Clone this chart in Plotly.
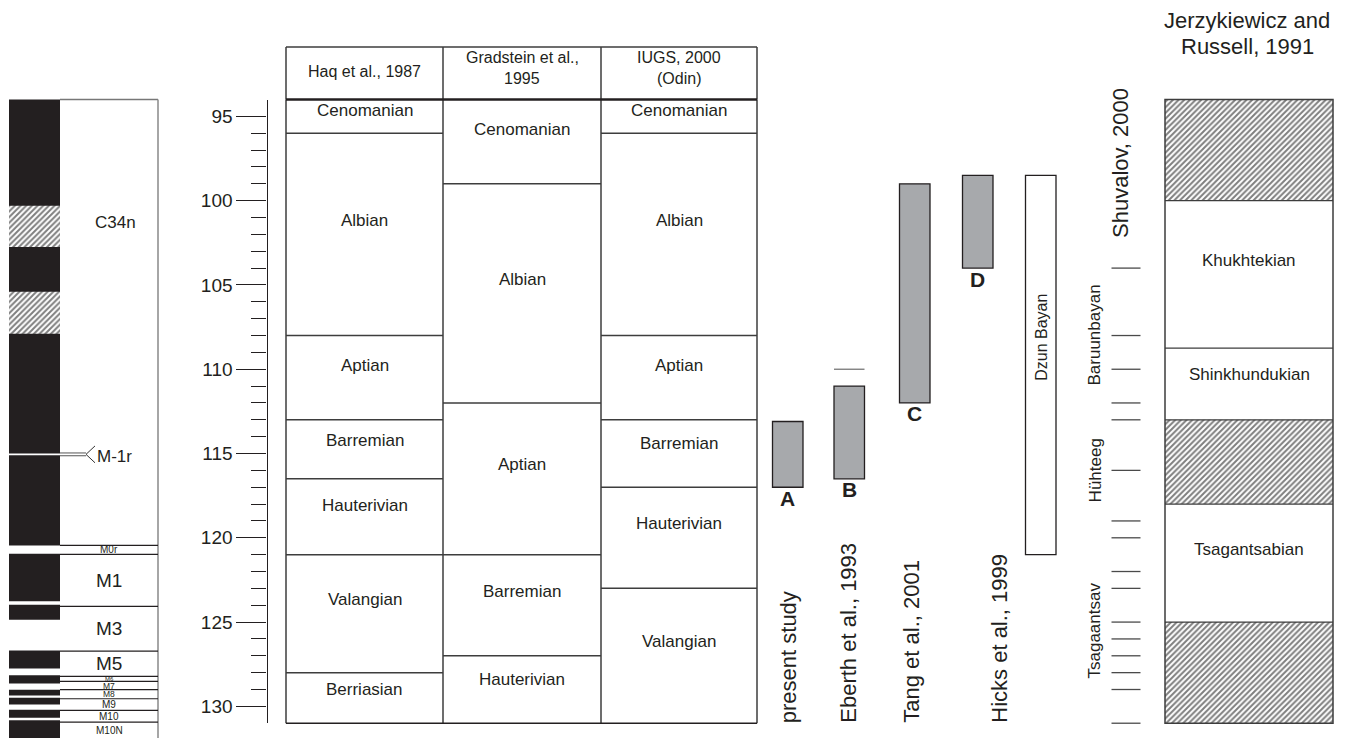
import plotly.graph_objects as go

# ---------------------------------------------------------------- data
# Numerical age scale (Ma)
SCALE_TOP = 94
SCALE_BASE = 131
MAJOR_AGES = [95, 100, 105, 110, 115, 120, 125, 130]
MINOR_AGES = [96, 97, 98, 99, 101, 102, 103, 104, 106, 107, 108, 109,
              111, 112, 113, 114, 116, 117, 118, 119, 121, 122, 123, 124,
              126, 127, 128, 129]

# Stage columns: stage names (young to old) and the base age of each stage
TABLE_HEADERS = [["Haq et al., 1987"],
                 ["Gradstein et al.,", "1995"],
                 ["IUGS, 2000", "(Odin)"]]
HAQ_STAGES = ["Cenomanian", "Albian", "Aptian", "Barremian",
              "Hauterivian", "Valangian", "Berriasian"]
HAQ_BASES = [96.0, 108.0, 113.0, 116.5, 121.0, 128.0, 131.0]
GRADSTEIN_STAGES = ["Cenomanian", "Albian", "Aptian", "Barremian", "Hauterivian"]
GRADSTEIN_BASES = [99.0, 112.0, 121.0, 127.0, 131.0]
IUGS_STAGES = ["Cenomanian", "Albian", "Aptian", "Barremian",
               "Hauterivian", "Valangian"]
IUGS_BASES = [96.0, 108.0, 113.0, 117.0, 123.0, 131.0]

# Geomagnetic polarity column
C34N_UNCERTAIN_TOPS = [100.3, 105.4]
C34N_UNCERTAIN_BASES = [102.75, 107.9]
REVERSED_TOPS = [120.45, 123.77, 124.86, 127.76, 128.65, 129.35, 129.89, 130.67]
REVERSED_BASES = [120.94, 123.97, 126.68, 128.16, 129.01, 129.49, 130.20, 130.83]
M_1R_AGE = 115.05
CHRON_NAMES = ["M0r", "M1", "M3", "M5", "M6", "M7", "M8", "M9", "M10", "M10N"]
CHRON_TOPS = [120.45, 120.98, 124.07, 126.72, 128.22, 128.52, 129.01,
              129.55, 130.24, 130.93]

# Age estimates for the Ondai Sayr / Dzun Bayan sequence
DATE_LABELS = ["A", "B", "C", "D"]
DATE_SOURCES = ["present study", "Eberth et al., 1993",
                "Tang et al., 2001", "Hicks et al., 1999"]
DATE_YOUNG = [113.1, 111.0, 99.0, 98.5]
DATE_OLD = [117.0, 116.5, 112.0, 104.0]
EBERTH_ALT_AGE = 110.0
DZUN_BAYAN_NAME = "Dzun Bayan"
DZUN_BAYAN_YOUNG = 98.5
DZUN_BAYAN_OLD = 121.0

# Shuvalov (2000) horizons
SHUVALOV_TICKS = [104, 108, 110, 112, 113, 116, 119, 120, 122, 123, 125,
                  126, 127, 128, 129, 131]
SHUVALOV_ZONES = ["Baruunbayan", "Hühteeg", "Tsagaantsav"]
SHUVALOV_BOUNDS = [104, 112, 120, 131]

# Jerzykiewicz and Russell (1991) land-vertebrate ages
JR_UNITS = ["", "Khukhtekian", "Shinkhundukian", "", "Tsagantsabian", ""]
JR_HATCHED = [True, False, False, True, False, True]
JR_BASES = [100.0, 108.75, 113.0, 118.0, 125.0, 131.0]

# ---------------------------------------------------------------- layout
W, H = 1346, 738
FONT = "Liberation Sans, Arial, Helvetica, sans-serif"
INK = "#231f20"
RULE = "#3d3d3d"
BAR_FILL = "#a7a9ac"

PX_AT_95 = 116.4          # vertical pixel of 95 Ma
PX_PER_MA = 16.856
AGE_AT_TOP_EDGE = 95 - PX_AT_95 / PX_PER_MA
AGE_AT_BOTTOM_EDGE = 95 + (H - PX_AT_95) / PX_PER_MA


def age_px(age):
    return PX_AT_95 + (age - 95) * PX_PER_MA


def paper_y(px):
    return 1 - px / H


shapes, annotations, traces = [], [], []


def rect(x0, x1, a0, a1, fill="rgba(0,0,0,0)", line=None, lw=0, layer="above"):
    shapes.append(dict(type="rect", xref="x", yref="y", x0=x0, x1=x1, y0=a0, y1=a1,
                       fillcolor=fill, layer=layer,
                       line=dict(color=line or "rgba(0,0,0,0)", width=lw)))


def seg(x0, x1, a0, a1, color=RULE, lw=1.5, yref="y"):
    shapes.append(dict(type="line", xref="x", yref=yref, x0=x0, x1=x1, y0=a0, y1=a1,
                       line=dict(color=color, width=lw), layer="above"))


def hatch(x0, x1, a0, a1):
    traces.append(go.Scatter(
        x=[x0, x1, x1, x0, x0], y=[a0, a0, a1, a1, a0], mode="lines",
        fill="toself", fillcolor="white",
        fillpattern=dict(shape="/", fgcolor="#000000", bgcolor="white", size=4,
                         solidity=0.5),
        line=dict(width=0), hoverinfo="skip", showlegend=False))


def text(x, y, s, size, yref="y", angle=0, xanchor="center", yanchor="middle",
         yshift=0, xshift=0, color=INK):
    annotations.append(dict(x=x, y=y, xref="x", yref=yref, text=s, showarrow=False,
                            textangle=angle, xanchor=xanchor, yanchor=yanchor,
                            yshift=yshift, xshift=xshift,
                            font=dict(family=FONT, size=size, color=color)))


# --- polarity column
MAG_L, MAG_M, MAG_R = 9, 60, 158
rect(MAG_L, MAG_M, SCALE_TOP, AGE_AT_BOTTOM_EDGE + 1, fill=INK, layer="below")
for t, b in zip(REVERSED_TOPS, REVERSED_BASES):
    rect(MAG_L, MAG_M, t, b, fill="white", layer="below")
for t, b in zip(C34N_UNCERTAIN_TOPS, C34N_UNCERTAIN_BASES):
    hatch(MAG_L, MAG_M, t, b)
seg(MAG_M, MAG_R, SCALE_TOP, SCALE_TOP, color="#777", lw=1.5)
seg(MAG_R, MAG_R, SCALE_TOP, AGE_AT_BOTTOM_EDGE + 1, color="#888", lw=1.5)
for a in CHRON_TOPS:
    seg(MAG_M, MAG_R, a, a, color=INK, lw=1.2)
chron_bases = CHRON_TOPS[1:] + [AGE_AT_BOTTOM_EDGE]
chron_sizes = [10, 19, 19, 19, 6, 8.5, 8.5, 10, 10, 10]
for name, t, b, fs in zip(CHRON_NAMES, CHRON_TOPS, chron_bases, chron_sizes):
    text((MAG_M + MAG_R) / 2, (t + b) / 2, name, fs)
text(115.5, 101.3, "C34n", 17)
# M-1r reversal marker
seg(MAG_L, MAG_M, M_1R_AGE, M_1R_AGE, color="white", lw=1.6)
d = 1.4 / PX_PER_MA
seg(MAG_M, 86, M_1R_AGE - d, M_1R_AGE - d, color="#555", lw=1)
seg(MAG_M, 86, M_1R_AGE + d, M_1R_AGE + d, color="#555", lw=1)
seg(86, 95, M_1R_AGE, M_1R_AGE - 0.5, color="#333", lw=1)
seg(86, 95, M_1R_AGE, M_1R_AGE + 0.5, color="#333", lw=1)
text(95, M_1R_AGE, "M-1r", 17, xanchor="left", yshift=-2)

# --- stage table
TABLE_X = [286, 443, 601, 757]
HEADER_TOP_PX = 47
seg(TABLE_X[0], TABLE_X[-1], paper_y(HEADER_TOP_PX), paper_y(HEADER_TOP_PX),
    color=RULE, lw=1.5, yref="paper")
for x in TABLE_X:
    seg(x, x, paper_y(HEADER_TOP_PX), paper_y(age_px(SCALE_TOP)), color=RULE, lw=1.5,
        yref="paper")
    seg(x, x, SCALE_TOP, SCALE_BASE, color=RULE, lw=1.5)
seg(TABLE_X[0], TABLE_X[-1], SCALE_BASE, SCALE_BASE, color=INK, lw=1.5)
header_rows = {1: [71], 2: [58, 79]}
for i, lines in enumerate(TABLE_HEADERS):
    xc = (TABLE_X[i] + TABLE_X[i + 1]) / 2
    for line, py in zip(lines, header_rows[len(lines)]):
        text(xc, paper_y(py), line, 16, yref="paper")
for i, (names, bases) in enumerate([(HAQ_STAGES, HAQ_BASES),
                                   (GRADSTEIN_STAGES, GRADSTEIN_BASES),
                                   (IUGS_STAGES, IUGS_BASES)]):
    x0, x1 = TABLE_X[i], TABLE_X[i + 1]
    tops = [SCALE_TOP] + bases[:-1]
    for name, t, b in zip(names, tops, bases):
        if b < SCALE_BASE:
            seg(x0, x1, b, b, color=RULE, lw=1.5)
        span = (b - t) * PX_PER_MA
        text((x0 + x1) / 2, (t + b) / 2, name, 17, yshift=min(12, span * 0.12) + 2)
seg(TABLE_X[0], TABLE_X[-1], SCALE_TOP, SCALE_TOP, color=INK, lw=2.6)

# --- age estimates
BAR_X = [772.5, 834, 899.5, 962.5]
BAR_W = 30.5
SOURCE_X = [788, 848.5, 912, 1000]
for lab, src, y0, y1, bx, sx in zip(DATE_LABELS, DATE_SOURCES, DATE_YOUNG, DATE_OLD,
                                    BAR_X, SOURCE_X):
    rect(bx, bx + BAR_W, y0, y1, fill=BAR_FILL, line=INK, lw=1.3)
    text(bx + BAR_W / 2, y1, "<b>%s</b>" % lab, 21, yshift=-11)
    text(sx, SCALE_BASE, src, 22, angle=-90, yanchor="bottom", yshift=-2)
seg(BAR_X[1], BAR_X[1] + BAR_W, EBERTH_ALT_AGE, EBERTH_ALT_AGE, color="#777", lw=1.3)
DZ_X0, DZ_X1 = 1025.5, 1056
rect(DZ_X0, DZ_X1, DZUN_BAYAN_YOUNG, DZUN_BAYAN_OLD, fill="white", line=INK, lw=1.3)
text((DZ_X0 + DZ_X1) / 2, (DZUN_BAYAN_YOUNG + DZUN_BAYAN_OLD) / 2, DZUN_BAYAN_NAME,
     16, angle=-90, yshift=28)

# --- Shuvalov (2000)
for a in SHUVALOV_TICKS:
    seg(1111.5, 1140.5, a, a, color="#4a4a4a", lw=1.3)
for name, t, b in zip(SHUVALOV_ZONES, SHUVALOV_BOUNDS[:-1], SHUVALOV_BOUNDS[1:]):
    text(1095, (t + b) / 2, name, 17, angle=-90)
text(1120, paper_y(163), "Shuvalov, 2000", 22, yref="paper", angle=-90)

# --- Jerzykiewicz and Russell (1991)
JR_X0, JR_X1 = 1165, 1333
jr_tops = [SCALE_TOP] + JR_BASES[:-1]
for name, hatched, t, b in zip(JR_UNITS, JR_HATCHED, jr_tops, JR_BASES):
    if hatched:
        hatch(JR_X0, JR_X1, t, b)
    elif name:
        span = (b - t) * PX_PER_MA
        text((JR_X0 + JR_X1) / 2, (t + b) / 2, name, 17, yshift=min(12, span * 0.1) + 2)
    if b < SCALE_BASE:
        seg(JR_X0, JR_X1, b, b, color=RULE, lw=1.3)
rect(JR_X0, JR_X1, SCALE_TOP, SCALE_BASE, line=RULE, lw=1.5)
text(1247, paper_y(20), "Jerzykiewicz and", 22, yref="paper")
text(1247, paper_y(47), "Russell, 1991", 22, yref="paper")

# --- figure
fig = go.Figure(traces)
# invisible anchor for the numerical age axis
fig.add_trace(go.Scatter(x=[0.5], y=[110], xaxis="x2", yaxis="y2", mode="markers",
                         marker=dict(opacity=0), hoverinfo="skip", showlegend=False))

axis_domain = [paper_y(age_px(SCALE_BASE)), paper_y(age_px(SCALE_TOP))]
fig.update_layout(
    width=W, height=H, margin=dict(l=0, r=0, t=0, b=0),
    paper_bgcolor="white", plot_bgcolor="rgba(0,0,0,0)", showlegend=False,
    xaxis=dict(range=[0, W], domain=[0, 1], visible=False, fixedrange=True),
    yaxis=dict(range=[AGE_AT_BOTTOM_EDGE, AGE_AT_TOP_EDGE], domain=[0, 1],
               visible=False, fixedrange=True),
    xaxis2=dict(range=[0, 1], domain=[0, 1], visible=False, anchor="y2",
                fixedrange=True),
    yaxis2=dict(range=[SCALE_BASE, SCALE_TOP], domain=axis_domain, anchor="free",
                position=266.5 / W, side="left", showline=True, linecolor=INK,
                linewidth=1.3, showgrid=False, zeroline=False, fixedrange=True,
                tickmode="array", tickvals=MAJOR_AGES, ticks="outside", ticklen=30,
                tickwidth=1.3, tickcolor=INK,
                tickfont=dict(family=FONT, size=19, color=INK),
                minor=dict(tickmode="array", tickvals=MINOR_AGES, ticks="outside",
                           ticklen=15, tickwidth=1.3, tickcolor=INK, showgrid=False)),
    shapes=shapes, annotations=annotations,
)

fig.write_html("out.html")
